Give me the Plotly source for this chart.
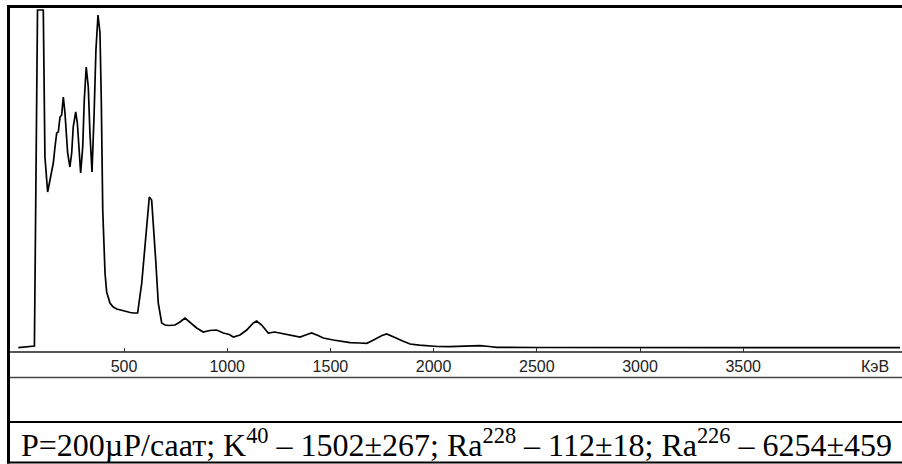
import plotly.graph_objects as go

# Gamma spectrum: energy (keV) and counts (arbitrary units)
energy_kev = [-12, 61, 66, 81, 109, 117, 130, 141.5, 157.5, 165.7, 174, 181.7, 190, 198, 206,
              214, 222, 227, 238, 246.6, 254, 266, 274, 282, 290, 300, 307.6, 317, 327, 335,
              345, 354.7, 364, 374, 383.7, 390, 395, 397, 408, 416, 432, 448, 465, 480.6, 497,
              513, 530, 545, 566, 586, 602, 613, 622.6, 634, 642, 653.6, 666, 682.6, 698.6, 720,
              747, 771, 795.5, 820, 852, 884, 915, 949, 981, 1010, 1029.6, 1062, 1094.5, 1126.5,
              1143, 1167, 1199, 1230, 1256, 1280, 1304, 1352.7, 1380, 1409, 1440, 1465.6, 1514,
              1555, 1595, 1640, 1676, 1700, 1724, 1750, 1773, 1800, 1821, 1850, 1886, 1930,
              1966.6, 2020, 2079.5, 2150, 2225, 2270, 2306, 2500, 2806, 3200, 3700, 4260]
counts = [43, 53, 60, 3420, 3420, 1950, 1600, 1720, 1890, 2050, 2190, 2200, 2350, 2370, 2550,
          2390, 2190, 1990, 1850, 1990, 2250, 2400, 2290, 2020, 1790, 2050, 2520, 2850, 2650, 2190,
          1800, 2350, 3020, 3370, 3190, 2520, 1520, 1420, 790, 600, 490, 450, 430, 420, 410,
          400, 395, 390, 390, 690, 1050, 1320, 1550, 1520, 1290, 920, 490, 290, 270, 265,
          270, 300, 340, 300, 240, 200, 215, 220, 190, 175, 150, 170, 220, 290,
          310, 270, 190, 200, 190, 175, 170, 150, 170, 190, 165, 140, 120,
          105, 93, 90, 87, 110, 137, 165, 180, 160, 137, 110, 80, 68,
          60, 55, 53, 58, 63, 55, 47, 45, 43, 43, 43, 43]

tick_values = [500, 1000, 1500, 2000, 2500, 3000, 3500]
tick_labels = ["500", "1000", "1500", "2000", "2500", "3000", "3500"]
unit_label = "КэВ"
caption = ("P=200µР/саат; K<sup>40</sup> – 1502±267; Ra<sup>228</sup> – 112±18; "
           "Ra<sup>226</sup> – 6254±459")

W, H = 902, 464


def px(x):
    return x / W


def py(y):
    return 1 - y / H


fig = go.Figure()
fig.add_trace(go.Scatter(x=energy_kev, y=counts, mode="lines",
                         line=dict(color="#000000", width=1.7), hoverinfo="skip",
                         showlegend=False))

fig.update_layout(
    width=W, height=H,
    margin=dict(l=0, r=0, t=0, b=0),
    paper_bgcolor="white", plot_bgcolor="white",
    xaxis=dict(domain=[px(10), px(901)], range=[-52.3, 4264.5],
               tickvals=tick_values, ticktext=tick_labels,
               ticks="inside", ticklen=4, tickwidth=1, tickcolor="#333333",
               ticklabelstandoff=3,
               showline=False, showgrid=False, zeroline=False,
               tickfont=dict(family="Liberation Sans, Arial", size=16, color="#222222")),
    yaxis=dict(domain=[py(352), py(9)], range=[0, 3430], visible=False),
    shapes=[
        dict(type="line", xref="paper", yref="paper", x0=px(10), x1=px(902),
             y0=py(352), y1=py(352), line=dict(color="#555555", width=2), layer="below"),
        dict(type="line", xref="paper", yref="paper", x0=px(10), x1=px(902),
             y0=py(377.5), y1=py(377.5), line=dict(color="#444444", width=1.5)),
        dict(type="line", xref="paper", yref="paper", x0=px(7), x1=px(902),
             y0=py(422), y1=py(422), line=dict(color="#000000", width=2)),
        dict(type="line", xref="paper", yref="paper", x0=px(7), x1=px(902),
             y0=py(462.5), y1=py(462.5), line=dict(color="#000000", width=2)),
        dict(type="line", xref="paper", yref="paper", x0=px(7), x1=px(902),
             y0=py(6.5), y1=py(6.5), line=dict(color="#000000", width=3)),
        dict(type="line", xref="paper", yref="paper", x0=px(8.5), x1=px(8.5),
             y0=py(5), y1=py(463.5), line=dict(color="#000000", width=3)),
    ],
    annotations=[
        dict(xref="paper", yref="paper", x=px(891), y=py(366.5), text=unit_label,
             showarrow=False, xanchor="right", yanchor="middle",
             font=dict(family="Liberation Sans, Arial", size=16, color="#222222")),
        dict(xref="paper", yref="paper", x=px(19), y=py(443), text=caption,
             showarrow=False, xanchor="left", yanchor="middle",
             font=dict(family="Liberation Serif, Times New Roman", size=32, color="#000000")),
    ],
)

fig.write_html("out.html", config={"displayModeBar": False, "staticPlot": True},
               post_script="document.body.style.margin='0';document.body.style.overflow='hidden';")
